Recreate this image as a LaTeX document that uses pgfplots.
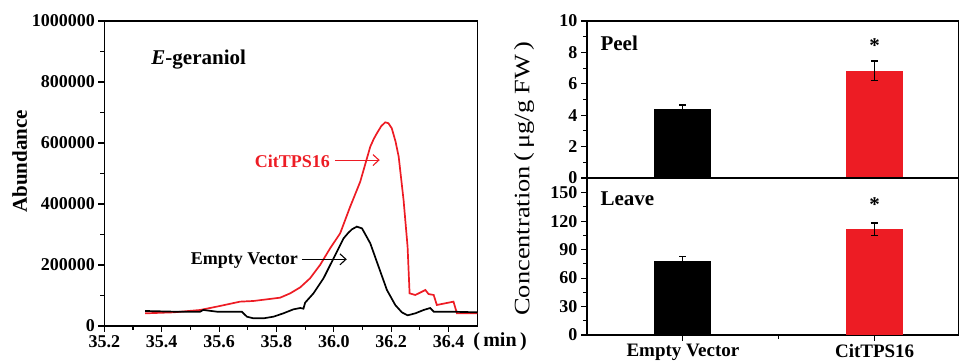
\documentclass[border=0pt]{standalone}
\usepackage{fontspec}
\setmainfont{Liberation Serif}
\usepackage{graphicx}
\usepackage{pgfplots}
\pgfplotsset{compat=1.18}
\usetikzlibrary{arrows.meta}
\definecolor{cred}{RGB}{237,28,36}
\pgfplotsset{
  myaxis/.style={
    scale only axis,
    axis line style={line width=1.3pt},
    tick style={line width=1.1pt, black},
    tick align=outside, tick pos=left,
    major tick length=6pt, minor tick length=4pt,
    ticklabel style={font=\fontsize{18}{18}\selectfont\bfseries},
    /pgf/number format/assume math mode=true,
  },
  barerr/.style={error bars/.cd, y dir=both, y explicit,
    error bar style={line width=1.1pt, black},
    error mark options={rotate=90, mark size=3.5pt, line width=1.1pt, black}},
}
\begin{document}
\begin{tikzpicture}
% ---------------- chromatogram ----------------
\begin{axis}[myaxis, at={(104.3pt,37pt)}, anchor=south west,
  width=373pt, height=305pt,
  xmin=35.2, xmax=36.5, ymin=0, ymax=1000000,
  xtick={35.2,35.4,35.6,35.8,36.0,36.2,36.4}, minor x tick num=1,
  ytick={0,200000,400000,600000,800000,1000000}, minor y tick num=1,
  scaled ticks=false,
  yticklabel style={/pgf/number format/fixed, /pgf/number format/1000 sep={}},
  xticklabel style={/pgf/number format/fixed, /pgf/number format/precision=1, /pgf/number format/fixed zerofill},
  ylabel={Abundance},
  every axis y label/.style={at={(axis description cs:-0.227,0.54)}, rotate=90, anchor=center, font=\fontsize{21}{21}\selectfont\bfseries},
]
\addplot[cred, line width=1.7pt] coordinates {
(35.342,41500) (35.441,44800) (35.534,52500) (35.603,65600) (35.673,79800)
(35.720,82000) (35.766,87400) (35.813,92900) (35.848,107100) (35.883,126800)
(35.917,156300) (35.952,200000) (35.987,254600) (36.022,303800) (36.057,391300)
(36.092,473200) (36.127,588000) (36.140,615000) (36.150,631700) (36.165,655000)
(36.179,667800) (36.190,665000) (36.202,648100) (36.215,605000) (36.226,555200)
(36.243,413100) (36.257,260100) (36.264,107100) (36.284,101600) (36.319,118000)
(36.330,104900) (36.348,101600) (36.359,68900) (36.417,79800) (36.429,41500)
(36.500,41500)};
\addplot[black, line width=1.7pt] coordinates {
(35.342,49200) (35.441,47000) (35.534,47000) (35.545,52500) (35.592,47000)
(35.679,47000) (35.697,30600) (35.720,25100) (35.755,25100) (35.790,30600)
(35.824,41500) (35.859,54600) (35.883,59000) (35.894,56800) (35.900,76500)
(35.929,107100) (35.964,156300) (35.999,221900) (36.034,287400) (36.050,305000)
(36.063,316900) (36.080,325700) (36.098,320200) (36.110,300000) (36.127,271000)
(36.156,194500) (36.185,118000) (36.214,68900) (36.237,44800) (36.257,35000)
(36.284,41500) (36.313,52500) (36.336,59000) (36.348,47000) (36.406,47000)
(36.500,44800)};
\node[anchor=base west, font=\fontsize{21}{21}\selectfont\bfseries] at (rel axis cs:0.117,0.856) {\textit{E}-geraniol};
\node[anchor=base east, text=cred, inner sep=0pt, font=\fontsize{18}{18}\selectfont\bfseries] at (axis cs:35.987,521000) {CitTPS16};
\draw[cred, line width=1.1pt, -{Straight Barb[length=6pt,width=11pt]}] (axis cs:36.004,544000) -- (axis cs:36.160,544000);
\node[anchor=base east, inner sep=0pt, font=\fontsize{18}{18}\selectfont\bfseries] at (axis cs:35.875,200000) {Empty Vector};
\draw[black, line width=1.1pt, -{Straight Barb[length=6pt,width=11pt]}] (axis cs:35.889,218600) -- (axis cs:36.045,218600);
\end{axis}
\node[font=\fontsize{20}{20}\selectfont\bfseries] at (500pt,21pt) {(\,min\,)};
% ---------------- peel ----------------
\begin{axis}[myaxis, at={(587pt,185pt)}, anchor=south west,
  width=372pt, height=157pt,
  xmin=0.5, xmax=2.44, ymin=0, ymax=10,
  xtick=\empty, ytick={0,2,4,6,8,10}, minor y tick num=1,
  ticklabel style={font=\fontsize{18}{18}\selectfont\bfseries},
  yticklabel style={inner ysep=0pt},
]
\addplot[ybar, bar width=57pt, bar shift=0pt, fill=black, draw=none, barerr] coordinates {(1,4.4) +- (0,0.25)};
\addplot[ybar, bar width=57pt, bar shift=0pt, fill=cred, draw=none, barerr] coordinates {(2,6.83) +- (0,0.62)};
\node[anchor=base west, font=\fontsize{21}{21}\selectfont\bfseries] at (rel axis cs:0.027,0.815) {Peel};
\node[anchor=base, font=\fontsize{21}{21}\selectfont\bfseries] at (axis cs:2,8.0) {*};
\end{axis}
% ---------------- leave ----------------
\begin{axis}[myaxis, at={(587pt,28pt)}, anchor=south west,
  width=372pt, height=157pt,
  xmin=0.5, xmax=2.44, ymin=0, ymax=165.5,
  xtick={1,2}, xticklabels={Empty Vector, CitTPS16}, minor xtick={1.5},
  ytick={0,30,60,90,120,150}, minor y tick num=1,
  ticklabel style={font=\fontsize{18}{18}\selectfont\bfseries},
  yticklabel style={inner ysep=0pt},
  xticklabel style={font=\fontsize{19}{19}\selectfont\bfseries},
]
\addplot[ybar, bar width=57pt, bar shift=0pt, fill=black, draw=none, barerr] coordinates {(1,78.5) +- (0,4.2)};
\addplot[ybar, bar width=57pt, bar shift=0pt, fill=cred, draw=none, barerr] coordinates {(2,111.6) +- (0,6.5)};
\node[anchor=base west, font=\fontsize{21}{21}\selectfont\bfseries] at (rel axis cs:0.027,0.828) {Leave};
\node[anchor=base, font=\fontsize{21}{21}\selectfont\bfseries] at (axis cs:2,130.4) {*};
\end{axis}
\node[rotate=90, font=\fontsize{22}{22}\selectfont] at (524pt,184.5pt) {\scalebox{1.2}[1]{Concentration\,(\,μg/g FW\,)}};
\pgfresetboundingbox
\useasboundingbox (0pt,0pt) rectangle (959pt,363pt);
\end{tikzpicture}
\end{document}
